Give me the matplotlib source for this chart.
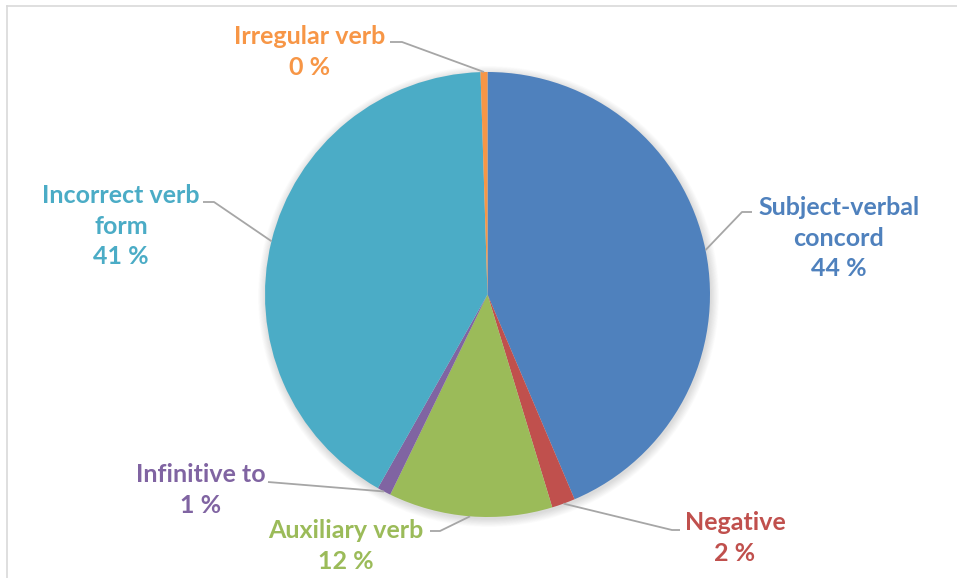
import numpy as np
import matplotlib
matplotlib.use("Agg")
import matplotlib.pyplot as plt
from matplotlib.patches import Circle

categories = ["Subject-verbal\nconcord", "Negative", "Auxiliary verb", "Infinitive to",
              "Incorrect verb\nform", "Irregular verb"]
values = [43.6, 1.7, 11.9, 1.0, 41.3, 0.5]
pct_labels = ["44 %", "2 %", "12 %", "1 %", "41 %", "0 %"]
colors = ["#4F81BD", "#C0504D", "#9BBB59", "#8064A2", "#4BACC6", "#F79646"]

W, H = 957, 578
fig = plt.figure(figsize=(W / 100, H / 100), dpi=100)
ax = fig.add_axes([0, 0, 1, 1])

def py(y):
    return H - y

cx, cy, R = 487.5, py(294.5), 222.5

# soft shadow
for i in range(12):
    ax.add_patch(Circle((cx + 1, cy - 2), R + 8 - i * 0.7, color="black",
                        alpha=0.012, lw=0, zorder=1))

wedges, _ = ax.pie(values, colors=colors, startangle=90, counterclock=False,
                   center=(cx, cy), radius=R, frame=True,
                   wedgeprops=dict(linewidth=0, zorder=2))
ax.set_xlim(0, W)
ax.set_ylim(0, H)
ax.set_aspect("equal")
ax.axis("off")

# chart border (top and left visible)
ax.plot([7, W], [py(5.5), py(5.5)], color="#D9D9D9", lw=1.2, zorder=0)
ax.plot([7, 7], [py(5.5), 0], color="#D9D9D9", lw=1.2, zorder=0)

# label text centers (pixel coords) and leader elbow points
label_pos = [(839, 238), (735, 538), (346, 546), (201, 490), (121, 226), (310, 52)]
elbows = [[(752, 212), (742, 212)],
          [(680, 530), (672, 530)],
          [(430, 531), (440, 531)],
          [(268, 482), (268, 482)],
          [(203, 202), (214, 202)],
          [(390, 42), (402, 42)]]

for w, cat, pl, col, (tx, ty), el in zip(wedges, categories, pct_labels, colors, label_pos, elbows):
    mid = np.deg2rad((w.theta1 + w.theta2) / 2)
    ex, ey = cx + R * np.cos(mid), cy + R * np.sin(mid)
    xs = [el[0][0], el[1][0], ex]
    ys = [py(el[0][1]), py(el[1][1]), ey]
    ax.plot(xs, ys, color="#A6A6A6", lw=1.3, zorder=3, solid_capstyle="butt")
    ax.text(tx, py(ty), cat + "\n" + pl, ha="center", va="center", color=col,
            fontsize=18, fontweight="bold", family=["Lato", "DejaVu Sans"],
            linespacing=1.4, zorder=4)

fig.savefig("out.png", dpi=100)
